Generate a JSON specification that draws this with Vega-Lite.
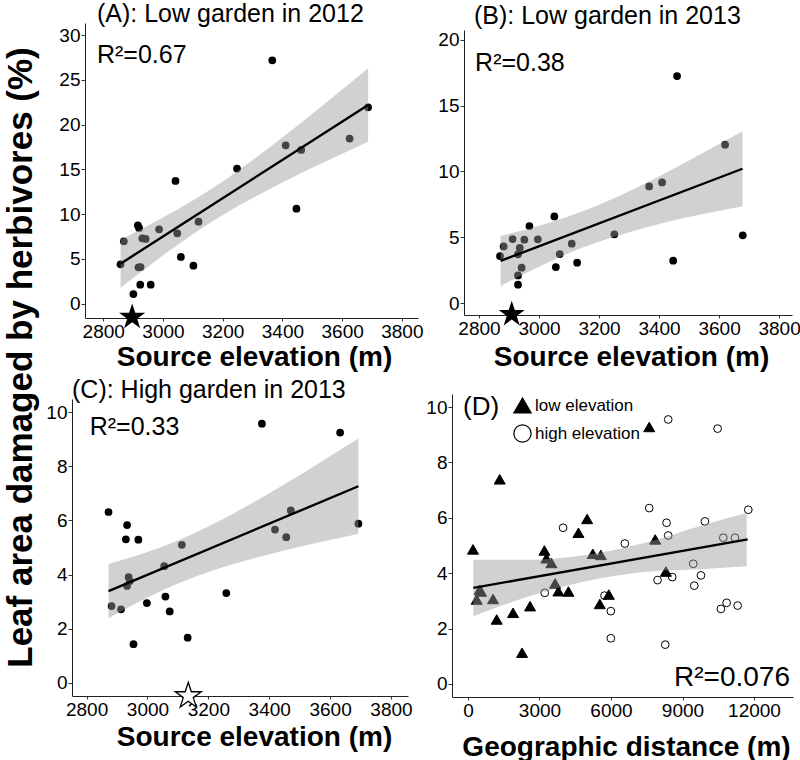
{
  "$schema": "https://vega.github.io/schema/vega-lite/v6.json",
  "background": "white",
  "padding": {"left": 2, "top": 2, "right": 4, "bottom": 4},
  "bounds": "flush",
  "columns": 2,
  "spacing": {"row": 76, "column": 34},
  "resolve": {"legend": {"shape": "independent", "fill": "independent", "stroke": "independent"}},
  "config": {
    "font": "Liberation Sans",
    "view": {"stroke": null},
    "axis": {"grid": false, "domainColor": "#222222", "tickColor": "#333333", "labelFontSize": 19, "labelColor": "black", "titleColor": "black", "titleFontSize": 28, "titleFontWeight": "bold", "labelFlush": false, "labelOverlap": false, "format": "d"},
    "axisX": {"tickSize": 3, "labelPadding": 1},
    "axisY": {"tickSize": 4, "labelPadding": 1},
    "title": {"fontSize": 25, "fontWeight": "normal", "anchor": "start", "frame": "group", "baseline": "alphabetic", "color": "black"}
  },
  "datasets": {
    "ptsA": [
      {"elev": 2858, "dmg": 4.40}, {"elev": 2869, "dmg": 6.97}, {"elev": 2901, "dmg": 1.08}, {"elev": 2916, "dmg": 8.76},
      {"elev": 2920, "dmg": 8.46}, {"elev": 2918, "dmg": 4.06}, {"elev": 2925, "dmg": 4.10}, {"elev": 2924, "dmg": 2.12},
      {"elev": 2931, "dmg": 7.30}, {"elev": 2942, "dmg": 7.23}, {"elev": 2959, "dmg": 2.12}, {"elev": 2987, "dmg": 8.31},
      {"elev": 3042, "dmg": 13.72}, {"elev": 3048, "dmg": 7.86}, {"elev": 3060, "dmg": 5.22}, {"elev": 3102, "dmg": 4.25},
      {"elev": 3119, "dmg": 9.17}, {"elev": 3248, "dmg": 15.10}, {"elev": 3366, "dmg": 27.20}, {"elev": 3411, "dmg": 17.70},
      {"elev": 3447, "dmg": 10.62}, {"elev": 3463, "dmg": 17.18}, {"elev": 3625, "dmg": 18.45}, {"elev": 3687, "dmg": 21.95}
    ],
    "bandA": [
      {"elev": 2858, "lo": 1.79, "hi": 7.15}, {"elev": 2950, "lo": 4.14, "hi": 8.74}, {"elev": 3050, "lo": 6.60, "hi": 10.56},
      {"elev": 3150, "lo": 8.87, "hi": 12.57}, {"elev": 3250, "lo": 10.88, "hi": 14.84}, {"elev": 3350, "lo": 12.69, "hi": 17.29},
      {"elev": 3450, "lo": 14.37, "hi": 19.89}, {"elev": 3550, "lo": 15.97, "hi": 22.57}, {"elev": 3687, "lo": 18.10, "hi": 26.30}
    ],
    "lineA": [{"elev": 2858, "dmg": 4.47}, {"elev": 3687, "dmg": 22.2}],
    "starA": [{"elev": 2897, "dmg": -1.5}],
    "ptsB": [
      {"elev": 2870, "dmg": 3.57}, {"elev": 2882, "dmg": 4.30}, {"elev": 2912, "dmg": 4.86}, {"elev": 2930, "dmg": 2.10},
      {"elev": 2930, "dmg": 1.39}, {"elev": 2930, "dmg": 3.70}, {"elev": 2936, "dmg": 4.18}, {"elev": 2942, "dmg": 2.68},
      {"elev": 2951, "dmg": 4.81}, {"elev": 2968, "dmg": 5.85}, {"elev": 2996, "dmg": 4.84}, {"elev": 3051, "dmg": 6.58},
      {"elev": 3056, "dmg": 2.73}, {"elev": 3069, "dmg": 3.72}, {"elev": 3109, "dmg": 4.51}, {"elev": 3127, "dmg": 3.06},
      {"elev": 3251, "dmg": 5.22}, {"elev": 3367, "dmg": 8.86}, {"elev": 3410, "dmg": 9.16}, {"elev": 3447, "dmg": 3.22},
      {"elev": 3460, "dmg": 17.24}, {"elev": 3620, "dmg": 12.03}, {"elev": 3679, "dmg": 5.14}
    ],
    "bandB": [
      {"elev": 2872, "lo": 1.30, "hi": 5.10}, {"elev": 2950, "lo": 2.21, "hi": 5.55}, {"elev": 3050, "lo": 3.29, "hi": 6.21},
      {"elev": 3150, "lo": 4.25, "hi": 7.01}, {"elev": 3250, "lo": 5.04, "hi": 7.96}, {"elev": 3350, "lo": 5.70, "hi": 9.04},
      {"elev": 3450, "lo": 6.28, "hi": 10.22}, {"elev": 3550, "lo": 6.79, "hi": 11.45}, {"elev": 3678, "lo": 7.36, "hi": 13.04}
    ],
    "lineB": [{"elev": 2872, "dmg": 3.2}, {"elev": 3678, "dmg": 10.2}],
    "starB": [{"elev": 2909, "dmg": -0.86}],
    "ptsC": [
      {"elev": 2872, "dmg": 6.31}, {"elev": 2882, "dmg": 2.84}, {"elev": 2913, "dmg": 2.72}, {"elev": 2933, "dmg": 5.83},
      {"elev": 2929, "dmg": 5.30}, {"elev": 2938, "dmg": 3.91}, {"elev": 2942, "dmg": 3.76}, {"elev": 2933, "dmg": 3.58},
      {"elev": 2954, "dmg": 1.43}, {"elev": 2970, "dmg": 5.29}, {"elev": 2998, "dmg": 2.95}, {"elev": 3055, "dmg": 4.31},
      {"elev": 3059, "dmg": 3.19}, {"elev": 3073, "dmg": 2.64}, {"elev": 3113, "dmg": 5.10}, {"elev": 3132, "dmg": 1.67},
      {"elev": 3259, "dmg": 3.32}, {"elev": 3376, "dmg": 9.57}, {"elev": 3419, "dmg": 5.66}, {"elev": 3456, "dmg": 5.38},
      {"elev": 3471, "dmg": 6.37}, {"elev": 3633, "dmg": 9.24}, {"elev": 3693, "dmg": 5.88}
    ],
    "bandC": [
      {"elev": 2872, "lo": 2.39, "hi": 4.39}, {"elev": 2950, "lo": 2.87, "hi": 4.65}, {"elev": 3050, "lo": 3.42, "hi": 5.04},
      {"elev": 3150, "lo": 3.89, "hi": 5.51}, {"elev": 3250, "lo": 4.28, "hi": 6.06}, {"elev": 3350, "lo": 4.60, "hi": 6.68},
      {"elev": 3450, "lo": 4.89, "hi": 7.33}, {"elev": 3550, "lo": 5.16, "hi": 8.02}, {"elev": 3693, "lo": 5.50, "hi": 9.02}
    ],
    "lineC": [{"elev": 2872, "dmg": 3.39}, {"elev": 3693, "dmg": 7.26}],
    "starC": [{"elev": 3134, "dmg": -0.48}],
    "ptsD": [
      {"dist": 210, "dmg": 4.86, "group": "low elevation"}, {"dist": 364, "dmg": 3.05, "group": "low elevation"},
      {"dist": 490, "dmg": 3.40, "group": "low elevation"}, {"dist": 546, "dmg": 3.34, "group": "low elevation"},
      {"dist": 1050, "dmg": 3.07, "group": "low elevation"}, {"dist": 1204, "dmg": 2.33, "group": "low elevation"},
      {"dist": 1330, "dmg": 7.39, "group": "low elevation"}, {"dist": 1890, "dmg": 2.57, "group": "low elevation"},
      {"dist": 2268, "dmg": 1.13, "group": "low elevation"}, {"dist": 2604, "dmg": 2.81, "group": "low elevation"},
      {"dist": 3206, "dmg": 4.82, "group": "low elevation"}, {"dist": 3290, "dmg": 4.54, "group": "low elevation"},
      {"dist": 3500, "dmg": 4.37, "group": "low elevation"}, {"dist": 3654, "dmg": 3.63, "group": "low elevation"},
      {"dist": 3794, "dmg": 3.35, "group": "low elevation"}, {"dist": 4214, "dmg": 3.34, "group": "low elevation"},
      {"dist": 4634, "dmg": 5.46, "group": "low elevation"}, {"dist": 4999, "dmg": 5.96, "group": "low elevation"},
      {"dist": 5236, "dmg": 4.70, "group": "low elevation"}, {"dist": 5573, "dmg": 4.66, "group": "low elevation"},
      {"dist": 5530, "dmg": 2.89, "group": "low elevation"}, {"dist": 5908, "dmg": 3.23, "group": "low elevation"},
      {"dist": 7855, "dmg": 5.22, "group": "low elevation"}, {"dist": 8303, "dmg": 4.06, "group": "low elevation"},
      {"dist": 7604, "dmg": 9.28, "group": "low elevation"},
      {"dist": 3220, "dmg": 3.29, "group": "high elevation"}, {"dist": 3990, "dmg": 5.64, "group": "high elevation"},
      {"dist": 5727, "dmg": 3.19, "group": "high elevation"}, {"dist": 5993, "dmg": 2.63, "group": "high elevation"},
      {"dist": 5993, "dmg": 1.65, "group": "high elevation"}, {"dist": 6581, "dmg": 5.07, "group": "high elevation"},
      {"dist": 7603, "dmg": 6.35, "group": "high elevation"}, {"dist": 7953, "dmg": 3.75, "group": "high elevation"},
      {"dist": 8331, "dmg": 5.82, "group": "high elevation"}, {"dist": 8401, "dmg": 5.36, "group": "high elevation"},
      {"dist": 8401, "dmg": 9.55, "group": "high elevation"}, {"dist": 8275, "dmg": 1.42, "group": "high elevation"},
      {"dist": 8569, "dmg": 3.86, "group": "high elevation"}, {"dist": 9451, "dmg": 4.34, "group": "high elevation"},
      {"dist": 9493, "dmg": 3.55, "group": "high elevation"}, {"dist": 9773, "dmg": 3.92, "group": "high elevation"},
      {"dist": 9941, "dmg": 5.87, "group": "high elevation"}, {"dist": 10473, "dmg": 9.22, "group": "high elevation"},
      {"dist": 10613, "dmg": 2.71, "group": "high elevation"}, {"dist": 10711, "dmg": 5.28, "group": "high elevation"},
      {"dist": 10851, "dmg": 2.93, "group": "high elevation"}, {"dist": 11201, "dmg": 5.28, "group": "high elevation"},
      {"dist": 11313, "dmg": 2.83, "group": "high elevation"}, {"dist": 11761, "dmg": 6.29, "group": "high elevation"}
    ],
    "bandD": [
      {"dist": 223, "lo": 2.45, "hi": 4.49}, {"dist": 2741, "lo": 3.21, "hi": 4.49}, {"dist": 4839, "lo": 3.69, "hi": 4.65},
      {"dist": 6200, "lo": 3.91, "hi": 4.85}, {"dist": 7637, "lo": 4.06, "hi": 5.14}, {"dist": 9734, "lo": 4.14, "hi": 5.70},
      {"dist": 11693, "lo": 4.25, "hi": 6.17}
    ],
    "lineD": [{"dist": 223, "dmg": 3.47}, {"dist": 11735, "dmg": 5.22}]
  },
  "concat": [
    {
      "width": 346, "height": 295,
      "title": {"text": "(A): Low garden in  2012", "dx": 25, "offset": -4},
      "layer": [
        {"data": {"name": "ptsA"}, "mark": {"type": "point", "filled": true, "color": "black", "size": 60, "opacity": 1},
         "encoding": {
           "x": {"field": "elev", "type": "quantitative", "scale": {"domain": [2739, 3854], "range": [13, 346], "nice": false, "zero": false},
                 "axis": {"values": [2800, 3000, 3200, 3400, 3600, 3800], "title": "Source elevation (m)", "titleX": 182, "titleY": 47, "titleBaseline": "alphabetic"}},
           "y": {"field": "dmg", "type": "quantitative", "scale": {"domain": [-1.6, 31.37], "nice": false, "zero": false},
                 "axis": {"values": [0, 5, 10, 15, 20, 25, 30], "offset": -13, "title": "Leaf area damaged by herbivores (%)", "titleFontSize": 35, "titleAngle": 270, "titleX": -54, "titleY": 334, "titleBaseline": "alphabetic", "titleAlign": "center"}}
         }},
        {"data": {"name": "bandA"}, "mark": {"type": "area", "color": "#999999", "opacity": 0.45, "interpolate": "monotone"},
         "encoding": {"x": {"field": "elev", "type": "quantitative"}, "y": {"field": "hi", "type": "quantitative"}, "y2": {"field": "lo"}}},
        {"data": {"name": "lineA"}, "mark": {"type": "line", "color": "black", "strokeWidth": 2.4},
         "encoding": {"x": {"field": "elev", "type": "quantitative"}, "y": {"field": "dmg", "type": "quantitative"}}},
        {"data": {"name": "starA"}, "mark": {"type": "point", "shape": "M0,-1L0.225,-0.309L0.951,-0.309L0.363,0.118L0.588,0.809L0,0.382L-0.588,0.809L-0.363,0.118L-0.951,-0.309L-0.225,-0.309Z", "filled": true, "color": "black", "size": 750, "opacity": 1},
         "encoding": {"x": {"field": "elev", "type": "quantitative"}, "y": {"field": "dmg", "type": "quantitative"}}},
        {"data": {"values": [{}]}, "mark": {"type": "text", "fontSize": 25, "align": "left", "baseline": "alphabetic", "color": "black"},
         "encoding": {"x": {"datum": 2779, "type": "quantitative"}, "y": {"datum": 26.9, "type": "quantitative"}, "text": {"value": "R²=0.67"}}}
      ]
    },
    {
      "width": 340, "height": 292,
      "title": {"text": "(B): Low garden in  2013", "dx": 22, "offset": -6},
      "layer": [
        {"data": {"name": "ptsB"}, "mark": {"type": "point", "filled": true, "color": "black", "size": 60, "opacity": 1},
         "encoding": {
           "x": {"field": "elev", "type": "quantitative", "scale": {"domain": [2750, 3843], "range": [12, 340], "nice": false, "zero": false},
                 "axis": {"values": [2800, 3000, 3200, 3400, 3600, 3800], "title": "Source elevation (m)", "titleX": 179, "titleY": 50, "titleBaseline": "alphabetic"}},
           "y": {"field": "dmg", "type": "quantitative", "scale": {"domain": [-0.91, 20.74], "range": [292, 7], "nice": false, "zero": false},
                 "axis": {"values": [0, 5, 10, 15, 20], "offset": -12, "title": null}}
         }},
        {"data": {"name": "bandB"}, "mark": {"type": "area", "color": "#999999", "opacity": 0.45, "interpolate": "monotone"},
         "encoding": {"x": {"field": "elev", "type": "quantitative"}, "y": {"field": "hi", "type": "quantitative"}, "y2": {"field": "lo"}}},
        {"data": {"name": "lineB"}, "mark": {"type": "line", "color": "black", "strokeWidth": 2.4},
         "encoding": {"x": {"field": "elev", "type": "quantitative"}, "y": {"field": "dmg", "type": "quantitative"}}},
        {"data": {"name": "starB"}, "mark": {"type": "point", "shape": "M0,-1L0.225,-0.309L0.951,-0.309L0.363,0.118L0.588,0.809L0,0.382L-0.588,0.809L-0.363,0.118L-0.951,-0.309L-0.225,-0.309Z", "filled": true, "color": "black", "size": 750, "opacity": 1},
         "encoding": {"x": {"field": "elev", "type": "quantitative"}, "y": {"field": "dmg", "type": "quantitative"}}},
        {"data": {"values": [{}]}, "mark": {"type": "text", "fontSize": 25, "align": "left", "baseline": "alphabetic", "color": "black"},
         "encoding": {"x": {"datum": 2787, "type": "quantitative"}, "y": {"datum": 17.62, "type": "quantitative"}, "text": {"value": "R²=0.38"}}}
      ]
    },
    {
      "width": 336, "height": 302,
      "title": {"text": "(C): High garden in 2013", "dx": 0, "offset": -9},
      "layer": [
        {"data": {"name": "ptsC"}, "mark": {"type": "point", "filled": true, "color": "black", "size": 60, "opacity": 1},
         "encoding": {
           "x": {"field": "elev", "type": "quantitative", "scale": {"domain": [2752, 3856], "range": [0, 336], "nice": false, "zero": false},
                 "axis": {"values": [2800, 3000, 3200, 3400, 3600, 3800], "title": "Source elevation (m)", "titleX": 182, "titleY": 49, "titleBaseline": "alphabetic"}},
           "y": {"field": "dmg", "type": "quantitative", "scale": {"domain": [-0.48, 10.48], "range": [302, 5], "nice": false, "zero": false},
                 "axis": {"values": [0, 2, 4, 6, 8, 10], "title": null}}
         }},
        {"data": {"name": "bandC"}, "mark": {"type": "area", "color": "#999999", "opacity": 0.45, "interpolate": "monotone"},
         "encoding": {"x": {"field": "elev", "type": "quantitative"}, "y": {"field": "hi", "type": "quantitative"}, "y2": {"field": "lo"}}},
        {"data": {"name": "lineC"}, "mark": {"type": "line", "color": "black", "strokeWidth": 2.4},
         "encoding": {"x": {"field": "elev", "type": "quantitative"}, "y": {"field": "dmg", "type": "quantitative"}}},
        {"data": {"name": "starC"}, "mark": {"type": "point", "shape": "M0,-1L0.225,-0.309L0.951,-0.309L0.363,0.118L0.588,0.809L0,0.382L-0.588,0.809L-0.363,0.118L-0.951,-0.309L-0.225,-0.309Z", "filled": true, "fill": "white", "stroke": "black", "strokeWidth": 1.3, "size": 750, "opacity": 1},
         "encoding": {"x": {"field": "elev", "type": "quantitative"}, "y": {"field": "dmg", "type": "quantitative"}}},
        {"data": {"values": [{}]}, "mark": {"type": "text", "fontSize": 25, "align": "left", "baseline": "alphabetic", "color": "black"},
         "encoding": {"x": {"datum": 2810, "type": "quantitative"}, "y": {"datum": 9.15, "type": "quantitative"}, "text": {"value": "R²=0.33"}}}
      ]
    },
    {
      "width": 341, "height": 303,
      "layer": [
        {"data": {"name": "ptsD"}, "transform": [{"filter": "datum.group === 'low elevation'"}],
         "mark": {"type": "point", "filled": true, "strokeWidth": 1, "size": 121, "opacity": 1},
         "encoding": {
           "x": {"field": "dist", "type": "quantitative", "scale": {"domain": [-671, 13636], "nice": false, "zero": false},
                 "axis": {"values": [0, 3000, 6000, 9000, 12000], "title": "Geographic distance (m)", "titleX": 174, "titleY": 58, "titleBaseline": "alphabetic"}},
           "y": {"field": "dmg", "type": "quantitative", "scale": {"domain": [-0.47, 10.47], "nice": false, "zero": false},
                 "axis": {"values": [0, 2, 4, 6, 8, 10], "title": null}},
           "shape": {"field": "group", "type": "nominal", "scale": {"domain": ["low elevation", "high elevation"], "range": ["triangle-up", "circle"]},
                     "legend": {"orient": "none", "legendX": 61, "legendY": 2, "title": null, "symbolSize": 300, "labelFontSize": 17, "labelColor": "black", "rowPadding": 6, "labelOffset": 3, "padding": 0, "symbolStrokeWidth": 1.2, "direction": "vertical"}},
           "fill": {"field": "group", "type": "nominal", "scale": {"domain": ["low elevation", "high elevation"], "range": ["black", "transparent"]},
                    "legend": {"orient": "none", "legendX": 61, "legendY": 2, "title": null, "symbolSize": 300, "labelFontSize": 17, "labelColor": "black", "rowPadding": 6, "labelOffset": 3, "padding": 0, "symbolStrokeWidth": 1.2, "direction": "vertical"}},
           "stroke": {"field": "group", "type": "nominal", "scale": {"domain": ["low elevation", "high elevation"], "range": ["black", "black"]},
                    "legend": {"orient": "none", "legendX": 61, "legendY": 2, "title": null, "symbolSize": 300, "labelFontSize": 17, "labelColor": "black", "rowPadding": 6, "labelOffset": 3, "padding": 0, "symbolStrokeWidth": 1.2, "direction": "vertical"}}
         }},
        {"data": {"name": "ptsD"}, "transform": [{"filter": "datum.group === 'high elevation'"}],
         "mark": {"type": "point", "filled": true, "strokeWidth": 1, "size": 60, "opacity": 1},
         "encoding": {
           "x": {"field": "dist", "type": "quantitative"},
           "y": {"field": "dmg", "type": "quantitative"},
           "shape": {"field": "group", "type": "nominal"},
           "fill": {"field": "group", "type": "nominal"},
           "stroke": {"field": "group", "type": "nominal"}
         }},
        {"data": {"name": "bandD"}, "mark": {"type": "area", "color": "#999999", "opacity": 0.45, "interpolate": "monotone"},
         "encoding": {"x": {"field": "dist", "type": "quantitative"}, "y": {"field": "hi", "type": "quantitative"}, "y2": {"field": "lo"}}},
        {"data": {"name": "lineD"}, "mark": {"type": "line", "color": "black", "strokeWidth": 2.4},
         "encoding": {"x": {"field": "dist", "type": "quantitative"}, "y": {"field": "dmg", "type": "quantitative"}}},
        {"data": {"values": [{}]}, "mark": {"type": "text", "fontSize": 26, "align": "left", "baseline": "alphabetic", "color": "black"},
         "encoding": {"x": {"datum": -210, "type": "quantitative"}, "y": {"datum": 9.71, "type": "quantitative"}, "text": {"value": "(D)"}}},
        {"data": {"values": [{}]}, "mark": {"type": "text", "fontSize": 28, "align": "right", "baseline": "alphabetic", "color": "black"},
         "encoding": {"x": {"datum": 13510, "type": "quantitative"}, "y": {"datum": -0.07, "type": "quantitative"}, "text": {"value": "R²=0.076"}}}
      ]
    }
  ]
}
